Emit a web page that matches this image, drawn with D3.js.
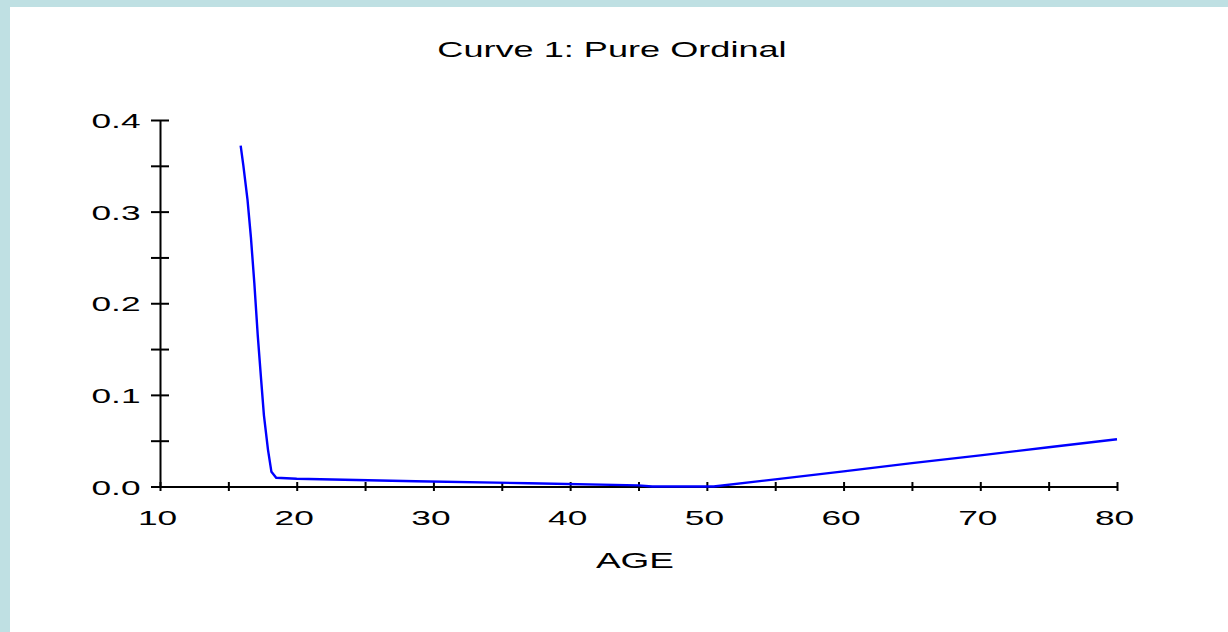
<!DOCTYPE html>
<html>
<head>
<meta charset="utf-8">
<script src="https://cdn.jsdelivr.net/npm/d3@7"></script>
<style>
  html, body { margin: 0; padding: 0; background: #ffffff; }
  svg { display: block; }
  text { font-family: "Liberation Sans", Arial, sans-serif; fill: #000; }
</style>
</head>
<body>
<svg id="chart" width="1228" height="632"></svg>
<script>
// Estimated curve: age vs. value
const ages   = [15.9, 16.1, 16.4, 16.65, 16.9, 17.15, 17.4, 17.6, 17.9, 18.15, 18.5, 20, 28.7, 37, 45, 46, 50.5, 55, 60, 65, 70, 75, 80];
const values = [0.372, 0.350, 0.313, 0.272, 0.222, 0.165, 0.116, 0.078, 0.040, 0.016, 0.0095, 0.0085, 0.0058, 0.0036, 0.0012, 0, 0, 0.0078, 0.0165, 0.0255, 0.034, 0.0428, 0.0515];

const xTicks = [10, 15, 20, 25, 30, 35, 40, 45, 50, 55, 60, 65, 70, 75, 80];
const yTicks = [0, 0.05, 0.1, 0.15, 0.2, 0.25, 0.3, 0.35, 0.4];

const titleText = "Curve 1: Pure Ordinal";
const xLabel = "AGE";

const svg = d3.select("#chart");
const stretch = 1.68; // wide glyphs

// page frame
svg.append("rect").attr("x", 0).attr("y", 0).attr("width", 1228).attr("height", 632).attr("fill", "#bfe0e3");
svg.append("rect").attr("x", 10).attr("y", 7).attr("width", 1218).attr("height", 625).attr("fill", "#ffffff");

const x = d3.scaleLinear().domain([10, 80]).range([160, 1117]);
const y = d3.scaleLinear().domain([0, 0.4]).range([486.5, 120]);

// x axis with ticks crossing the line
const xg = svg.append("g").attr("transform", `translate(0,${y(0)})`)
  .call(d3.axisBottom(x).tickValues(xTicks).tickSizeOuter(0)
        .tickFormat(d => d % 10 === 0 ? d3.format("d")(d) : ""));
xg.select(".domain").attr("stroke", "#000").attr("stroke-width", 2);
xg.selectAll(".tick line").attr("stroke", "#000").attr("stroke-width", 2).attr("y1", -4.5).attr("y2", 4.5);
xg.selectAll(".tick text").attr("y", 38.5).attr("dy", 0).attr("x", -3)
  .attr("font-size", 21);

// y axis with ticks crossing the line
const yg = svg.append("g").attr("transform", `translate(${x(10)},0)`)
  .call(d3.axisLeft(y).tickValues(yTicks).tickSizeOuter(0)
        .tickFormat(d => Math.abs(d * 10 - Math.round(d * 10)) < 1e-9 ? d3.format(".1f")(d) : ""));
yg.select(".domain").attr("stroke", "#000").attr("stroke-width", 2);
yg.selectAll(".tick line").attr("stroke", "#000").attr("stroke-width", 2).attr("x1", -9).attr("x2", 9);
yg.selectAll(".tick text").attr("x", -19.5).attr("dy", "0.36em")
  .attr("font-size", 21);

// curve
const line = d3.line().x((d, i) => x(ages[i])).y(d => y(d));
svg.append("path").datum(values)
  .attr("d", line)
  .attr("fill", "none")
  .attr("stroke", "#0000ff")
  .attr("stroke-width", 2.4);

// title and axis label
svg.append("text").attr("x", 612).attr("y", 56.5).attr("text-anchor", "middle")
  .attr("font-size", 21.5).text(titleText);
svg.append("text").attr("x", 635).attr("y", 568).attr("text-anchor", "middle")
  .attr("font-size", 22).text(xLabel);

// widen all glyphs horizontally
svg.selectAll("text").each(function () {
  const w = this.getComputedTextLength();
  if (w > 0) d3.select(this).attr("textLength", w * stretch).attr("lengthAdjust", "spacingAndGlyphs");
});
</script>
</body>
</html>
